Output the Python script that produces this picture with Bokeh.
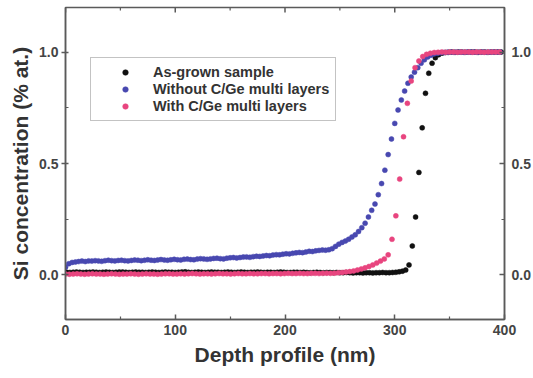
from bokeh.plotting import figure
from bokeh.models import (Range1d, FixedTicker, LinearAxis, Legend, LegendItem,
                          NumeralTickFormatter)
from bokeh.embed import file_html
from bokeh.resources import INLINE

# ---------------- data ----------------
X_TICKS = [0, 100, 200, 300, 400]
X_MINOR = [50, 150, 250, 350]
Y_TICKS = [0.0, 0.5, 1.0]
Y_MINOR = [0.25, 0.75]

SERIES_NAMES = ["As-grown sample", "Without C/Ge multi layers", "With C/Ge multi layers"]

DEPTH_BLACK = [1, 4, 7, 10, 13, 16, 19, 22, 25, 28, 31, 34, 37, 40, 43, 46, 49, 52, 55, 58,
               61, 64, 67, 70, 73, 76, 79, 82, 85, 88, 91, 94, 97, 100, 103, 106, 109, 112, 115, 118,
               121, 124, 127, 130, 133, 136, 139, 142, 145, 148, 151, 154, 157, 160, 163, 166, 169, 172, 175, 178,
               181, 184, 187, 190, 193, 196, 199, 202, 205, 208, 211, 214, 217, 220, 223, 226, 229, 232, 235, 238,
               241, 244, 247, 250, 253, 256, 259, 262, 265, 268, 271, 274, 277, 280, 283, 286, 289, 292, 295, 298,
               301, 304, 307, 310, 313, 316, 319, 322, 325, 328, 331, 334, 337, 340, 343, 346, 349, 352, 355, 358,
               361, 364, 367, 370, 373, 376, 379, 382, 385, 388, 391, 394, 397]
SI_BLACK = [0.012, 0.011, 0.012, 0.013, 0.012, 0.011, 0.012, 0.012, 0.013, 0.012,
            0.011, 0.012, 0.013, 0.012, 0.011, 0.012, 0.013, 0.013, 0.012, 0.011,
            0.012, 0.013, 0.012, 0.012, 0.011, 0.012, 0.013, 0.012, 0.011, 0.012,
            0.013, 0.012, 0.012, 0.011, 0.012, 0.013, 0.014, 0.012, 0.011, 0.012,
            0.013, 0.012, 0.011, 0.012, 0.013, 0.012, 0.012, 0.011, 0.012, 0.013,
            0.012, 0.011, 0.012, 0.013, 0.012, 0.011, 0.012, 0.012, 0.013, 0.012,
            0.011, 0.012, 0.012, 0.011, 0.012, 0.013, 0.012, 0.011, 0.011, 0.012,
            0.012, 0.011, 0.012, 0.011, 0.010, 0.011, 0.012, 0.011, 0.010, 0.011,
            0.011, 0.010, 0.011, 0.010, 0.010, 0.011, 0.010, 0.009, 0.010, 0.010,
            0.009, 0.010, 0.010, 0.009, 0.010, 0.010, 0.011, 0.010, 0.010, 0.011,
            0.012, 0.014, 0.017, 0.022, 0.045, 0.130, 0.260, 0.460, 0.660, 0.815,
            0.905, 0.950, 0.975, 0.988, 0.995, 0.998,
            0.999, 1.000, 0.999, 1.000, 1.000, 0.999, 1.000, 1.000, 1.000, 0.999,
            1.000, 1.000, 0.999, 1.000, 1.000, 1.000, 1.000]

DEPTH_BLUE = [0, 3, 6, 9, 12, 15, 18, 21, 24, 27, 30, 33, 36, 39, 42, 45, 48, 51, 54, 57,
              60, 63, 66, 69, 72, 75, 78, 81, 84, 87, 90, 93, 96, 99, 102, 105, 108, 111, 114, 117,
              120, 123, 126, 129, 132, 135, 138, 141, 144, 147, 150, 153, 156, 159, 162, 165, 168, 171, 174, 177,
              180, 183, 186, 189, 192, 195, 198, 201, 204, 207, 210, 213, 216, 219, 222, 225, 228, 231, 234, 237,
              240, 243, 246, 249, 252, 255, 258, 261, 264, 267, 270, 273, 276, 279, 282, 285, 288, 291, 294, 297,
              300, 303, 306, 309, 312, 315, 318, 321, 324, 327, 330, 333, 336, 339, 342, 345, 348, 351, 354, 357,
              360, 363, 366, 369, 372, 375, 378, 381, 384, 387, 390, 393, 396]
SI_BLUE = [0.035, 0.050, 0.056, 0.058, 0.060, 0.062, 0.060, 0.063, 0.062, 0.064,
           0.063, 0.061, 0.064, 0.066, 0.064, 0.063, 0.065, 0.066, 0.064, 0.063,
           0.065, 0.067, 0.066, 0.064, 0.066, 0.068, 0.066, 0.065, 0.067, 0.069,
           0.067, 0.066, 0.068, 0.070, 0.068, 0.067, 0.070, 0.071, 0.069, 0.068,
           0.071, 0.073, 0.072, 0.070, 0.072, 0.074, 0.075, 0.073, 0.072, 0.075,
           0.077, 0.078, 0.076, 0.078, 0.080, 0.081, 0.079, 0.082, 0.084, 0.083,
           0.085, 0.087, 0.086, 0.089, 0.091, 0.090, 0.093, 0.095, 0.094, 0.097,
           0.099, 0.101, 0.100, 0.103, 0.106, 0.105, 0.108, 0.110, 0.112, 0.111,
           0.113, 0.118, 0.128, 0.138, 0.146, 0.152, 0.160, 0.170, 0.180, 0.195,
           0.212, 0.232, 0.260, 0.290, 0.318, 0.360, 0.410, 0.470, 0.540, 0.610,
           0.680, 0.740, 0.785, 0.825, 0.860, 0.888, 0.910, 0.930, 0.950, 0.965,
           0.978, 0.986, 0.992, 0.995, 0.997, 0.998,
           0.999, 1.000, 0.999, 1.000, 1.000, 0.999, 1.000, 1.000, 1.000, 0.999,
           1.000, 1.000, 0.999, 1.000, 1.000, 1.000, 1.000]

DEPTH_PINK = [0, 3.5, 7, 10.5, 14, 17.5, 21, 24.5, 28, 31.5, 35, 38.5, 42, 45.5, 49, 52.5, 56, 59.5, 63, 66.5,
              70, 73.5, 77, 80.5, 84, 87.5, 91, 94.5, 98, 101.5, 105, 108.5, 112, 115.5, 119, 122.5, 126, 129.5,
              133, 136.5, 140, 143.5, 147, 150.5, 154, 157.5, 161, 164.5, 168, 171.5, 175, 178.5, 182, 185.5,
              189, 192.5, 196, 199.5, 203, 206.5, 210, 213.5, 217, 220.5, 224, 227.5, 231, 234.5, 238, 241.5,
              245, 248.5, 252, 255.5, 259, 262.5, 266, 269.5, 273, 276.5, 280, 283.5, 287, 290.5, 294, 297.5,
              301, 304.5, 308, 311.5, 315, 318.5, 322, 325.5, 329, 332.5, 336, 339.5, 343, 346.5, 350, 353.5,
              357, 360.5, 364, 367.5, 371, 374.5, 378, 381.5, 385, 388.5, 392, 395.5]
SI_PINK = [0.004, 0.003, 0.004, 0.005, 0.004, 0.003, 0.004, 0.005, 0.004, 0.004,
           0.003, 0.004, 0.005, 0.004, 0.003, 0.004, 0.004, 0.005, 0.004, 0.003,
           0.004, 0.005, 0.004, 0.004, 0.003, 0.004, 0.005, 0.005, 0.004, 0.004,
           0.005, 0.004, 0.005, 0.006, 0.005, 0.004, 0.005, 0.005, 0.004, 0.005,
           0.006, 0.005, 0.005, 0.004, 0.005, 0.006, 0.005, 0.005, 0.006, 0.005,
           0.005, 0.006, 0.006, 0.005, 0.006, 0.006, 0.005, 0.006, 0.007, 0.006,
           0.006, 0.007, 0.006, 0.006, 0.007, 0.007, 0.006, 0.007, 0.008, 0.007,
           0.008, 0.010, 0.011, 0.013, 0.015, 0.018, 0.022, 0.027, 0.032, 0.038,
           0.045, 0.053, 0.062, 0.072, 0.090, 0.160, 0.265, 0.430, 0.620, 0.770,
           0.870, 0.930, 0.960, 0.980, 0.990, 0.995, 0.998,
           0.999, 1.000, 0.999, 1.000, 1.000, 0.999, 1.000, 1.000, 1.000, 0.999,
           1.000, 1.000, 0.999, 1.000, 1.000, 1.000, 1.000]

COLORS = ["#111111", "#4848b0", "#e8457f"]

# ---------------- figure ----------------
FONT = "Liberation Sans"
AXIS_COL = "#5a5a5a"
TEXT_COL = "#333333"
X_RANGE = (0, 400)
Y_RANGE = (-0.2, 1.2)

W, H = 533, 376
BL, BR, BT, BB = 65, 28, 7, 57

p = figure(width=W, height=H, output_backend="svg", toolbar_location=None,
           x_range=Range1d(*X_RANGE), y_range=Range1d(*Y_RANGE),
           min_border_left=BL, min_border_right=BR, min_border_top=BT, min_border_bottom=BB)
p.xgrid.visible = False
p.ygrid.visible = False
p.outline_line_color = AXIS_COL
p.outline_line_width = 1.5
p.background_fill_color = "white"
p.border_fill_color = "white"

xt = FixedTicker(ticks=X_TICKS, minor_ticks=X_MINOR)
yt = FixedTicker(ticks=Y_TICKS, minor_ticks=Y_MINOR)


def style(ax, tin, tout):
    ax.axis_line_color = AXIS_COL
    ax.axis_line_width = 1.5
    ax.major_tick_line_color = AXIS_COL
    ax.minor_tick_line_color = AXIS_COL
    ax.major_tick_line_width = 1.5
    ax.minor_tick_line_width = 1.2
    ax.major_tick_in = tin
    ax.major_tick_out = tout
    ax.minor_tick_in = 3
    ax.minor_tick_out = 0
    ax.major_label_text_font = FONT
    ax.major_label_text_font_style = "bold"
    ax.major_label_text_font_size = "14px"
    ax.major_label_text_color = "#444444"
    ax.axis_label_text_font = FONT
    ax.axis_label_text_font_style = "bold"
    ax.axis_label_text_font_size = "21px"
    ax.axis_label_text_color = TEXT_COL


xa = p.xaxis[0]
xa.ticker = xt
style(xa, 5, 0)
xa.major_label_standoff = 5
xa.axis_label = "Depth profile (nm)"
xa.axis_label_standoff = 5

ya = p.yaxis[0]
ya.ticker = yt
ya.formatter = NumeralTickFormatter(format="0.0")
style(ya, 3, 4)
ya.major_label_standoff = 3
ya.axis_label = "Si concentration (% at.)"
ya.axis_label_standoff = 4

ra = LinearAxis(ticker=yt, formatter=NumeralTickFormatter(format="0.0"))
style(ra, 5, 0)
ra.major_label_standoff = 7
p.add_layout(ra, "right")

# ticks along the top edge of the frame (no labels there)
frame_h = H - BT - BB
per_px = (Y_RANGE[1] - Y_RANGE[0]) / frame_h
p.segment(x0=X_TICKS, y0=[Y_RANGE[1]] * len(X_TICKS), x1=X_TICKS,
          y1=[Y_RANGE[1] - 5 * per_px] * len(X_TICKS), line_color=AXIS_COL, line_width=1.5)
p.segment(x0=X_MINOR, y0=[Y_RANGE[1]] * len(X_MINOR), x1=X_MINOR,
          y1=[Y_RANGE[1] - 3 * per_px] * len(X_MINOR), line_color=AXIS_COL, line_width=1.2)

renderers = []
for d, v, c in [(DEPTH_BLACK, SI_BLACK, COLORS[0]),
                (DEPTH_BLUE, SI_BLUE, COLORS[1]),
                (DEPTH_PINK, SI_PINK, COLORS[2])]:
    n = min(len(d), len(v))
    r = p.scatter(d[:n], v[:n], marker="circle", size=5, fill_color=c, line_color=c,
                  line_width=0.5)
    renderers.append(r)

legend = Legend(items=[LegendItem(label=nm, renderers=[r]) for nm, r in zip(SERIES_NAMES, renderers)],
                location=(25, 198))
legend.label_text_font = FONT
legend.label_text_font_style = "bold"
legend.label_text_font_size = "14.5px"
legend.label_text_color = TEXT_COL
legend.glyph_width = 56
legend.glyph_height = 14
legend.label_height = 14
legend.label_standoff = 0
legend.spacing = 1
legend.padding = 6
legend.margin = 0
legend.border_line_color = "#888888"
legend.border_line_width = 1
legend.background_fill_color = "white"
legend.background_fill_alpha = 1.0
p.add_layout(legend)

open("out.html", "w").write(file_html(p, INLINE))
